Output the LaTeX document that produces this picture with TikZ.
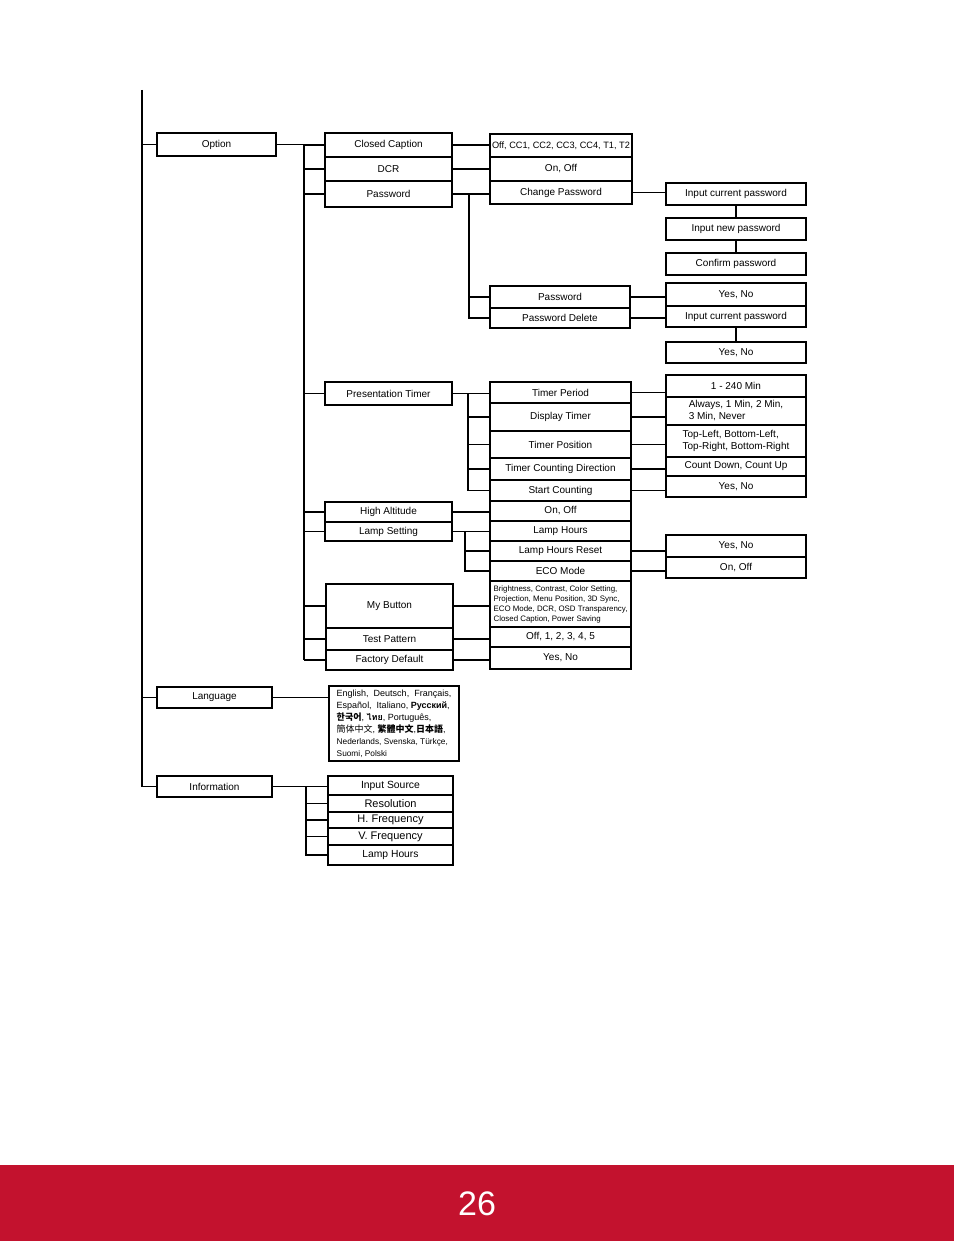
\documentclass[tikz,border=0pt]{standalone}
\usepackage{fontspec}
\setmainfont{Liberation Sans}
\newfontfamily\cjk{Noto Sans CJK SC}
\newfontfamily\krfont{Noto Sans CJK KR}
\newfontfamily\thaifont[Script=Thai]{Loma}
\definecolor{pagered}{RGB}{195,18,46}
\tikzset{
  bx/.style={draw, line width=1.5pt, inner sep=0pt, font=\fontsize{10}{12}\selectfont},
  ln/.style={line width=1.1pt},
  mainln/.style={line width=1.6pt},
}
\newcommand\mybox[7][]{%
  \pgfmathsetmacro\mycx{(#3+#5)/2}%
  \pgfmathsetmacro\mycy{(#4+#6)/2}%
  \pgfmathsetmacro\myww{#5-#3}%
  \pgfmathsetmacro\myhh{#6-#4}%
  \node[bx,minimum width=\myww pt,minimum height=\myhh pt,#1] (#2) at (\mycx,\mycy) {#7};}
\begin{document}
\begin{tikzpicture}[x=1pt,y=-1pt]
\useasboundingbox (0,0) rectangle (954,1241);
\fill[white] (0,0) rectangle (954,1241);
% footer band
\fill[pagered] (0,1165) rectangle (954,1241);
\node[text=white, font=\fontsize{34}{36}\selectfont] (pnum) at (477,1204) {26};

% ---------- Option branch ----------
\mybox{opt}{157}{133}{276}{156}{Option}
\mybox{cc}{325}{133}{452}{157}{Closed Caption}
\mybox{dcr}{325}{157}{452}{181}{DCR}
\mybox{pw}{325}{181}{452}{207}{Password}
\mybox[font=\fontsize{9.2}{11}\selectfont]{ccopt}{490}{134}{632}{157}{Off, CC1, CC2, CC3, CC4, T1, T2}
\mybox{dcropt}{490}{157}{632}{181}{On, Off}
\mybox{chpw}{490}{181}{632}{204}{Change Password}
\mybox{icp}{666}{183}{806}{205}{Input current password}
\mybox{inp}{666}{218}{806}{240}{Input new password}
\mybox{cfp}{666}{253}{806}{275}{Confirm password}
\mybox{pwb}{490}{286}{630}{308}{Password}
\mybox{pwd}{490}{308}{630}{328}{Password Delete}
\mybox{yna}{666}{283}{806}{306}{Yes, No}
\mybox{icpb}{666}{306}{806}{327}{Input current password}
\mybox{ynb}{666}{342}{806}{363}{Yes, No}

\mybox{pt}{325}{382}{452}{405}{Presentation Timer}
\mybox{tper}{490}{382}{631}{403}{Timer Period}
\mybox{dt}{490}{403}{631}{431}{Display Timer}
\mybox{tpos}{490}{431}{631}{458}{Timer Position}
\mybox{tcd}{490}{458}{631}{480}{Timer Counting Direction}
\mybox{sc}{490}{480}{631}{501}{Start Counting}
\mybox{ra}{666}{375}{806}{397}{1 - 240 Min}
\mybox[align=left]{rb}{666}{397}{806}{425}{Always, 1 Min, 2 Min,\\ 3 Min, Never}
\mybox[align=left]{rc}{666}{425}{806}{457}{Top-Left, Bottom-Left,\\Top-Right, Bottom-Right}
\mybox{rd}{666}{457}{806}{476}{Count Down, Count Up}
\mybox{re}{666}{476}{806}{497}{Yes, No}

\mybox{ha}{325}{502}{452}{522}{High Altitude}
\mybox{ls}{325}{522}{452}{541}{Lamp Setting}
\mybox{haopt}{490}{501}{631}{521}{On, Off}
\mybox{lh}{490}{521}{631}{541}{Lamp Hours}
\mybox{lhr}{490}{541}{631}{561}{Lamp Hours Reset}
\mybox{eco}{490}{561}{631}{581}{ECO Mode}
\mybox{rya}{666}{535}{806}{557}{Yes, No}
\mybox{ryb}{666}{557}{806}{578}{On, Off}

\mybox{mb}{326}{584}{453}{628}{My Button}
\mybox{tpat}{326}{628}{453}{650}{Test Pattern}
\mybox{fd}{326}{650}{453}{670}{Factory Default}
\mybox[align=left,font=\fontsize{7.9}{10}\selectfont]{mbopt}{490}{581}{631}{627}{Brightness, Contrast, Color Setting,\\Projection, Menu Position, 3D Sync,\\ECO Mode, DCR, OSD Transparency,\\Closed Caption, Power Saving}
\mybox{tpopt}{490}{627}{631}{647}{Off, 1, 2, 3, 4, 5}
\mybox{fdopt}{490}{647}{631}{669}{Yes, No}

% ---------- Language ----------
\mybox{lang}{157}{687}{272}{708}{Language}
\mybox[align=left,font=\fontsize{9}{12}\selectfont]{langopt}{329}{686}{459}{761}{English,\ \ Deutsch,\ \ Français,\\Español,\ \ Italiano,\ \textbf{Русский},\\{\krfont\bfseries 한국어}, {\thaifont\bfseries ไทย}, Português,\\{\cjk 簡体中文}, {\cjk\bfseries 繁體中文},{\cjk\bfseries 日本語},\\{\fontsize{8.3}{12}\selectfont Nederlands, Svenska, Türkçe,}\\{\fontsize{8.3}{12}\selectfont Suomi, Polski}}

% ---------- Information ----------
\mybox{info}{157}{776}{272}{797}{Information}
\mybox[font=\fontsize{10.4}{12}\selectfont]{isrc}{328}{776}{453}{795}{Input Source}
\mybox[font=\fontsize{11}{12}\selectfont]{res}{328}{795}{453}{812}{Resolution}
\mybox[font=\fontsize{11}{12}\selectfont]{hf}{328}{812}{453}{828}{H. Frequency}
\mybox[font=\fontsize{11}{12}\selectfont]{vf}{328}{828}{453}{845}{V. Frequency}
\mybox[font=\fontsize{10.3}{12}\selectfont]{ilh}{328}{845}{453}{865}{Lamp Hours}

% ---------- connectors ----------
\coordinate (mtop) at (142,90);
\draw[mainln] (mtop) |- (info.west);
\draw[ln] (mtop |- opt.west) -- (opt.west);
\draw[ln] (mtop |- lang.west) -- (lang.west);

% option bus
\coordinate (bA) at (304,0);
\draw[ln] (opt.east) -- (bA |- opt.east);
\draw[ln] (bA |- opt.east) -- (bA |- fd.west);
\foreach \n in {cc,dcr,pw,pt,ha,ls,mb,tpat,fd} \draw[ln] (bA |- \n.west) -- (\n.west);

% closed caption, dcr, password
\draw[mainln] (cc.east) -- (cc.east -| ccopt.west);
\draw[ln] (dcr.east) -- (dcr.east -| dcropt.west);
\draw[mainln] (pw.east) -- (pw.east -| chpw.west);
\draw[ln] (chpw.east) -- (chpw.east -| icp.west);
\draw[ln] (icp.south) -- (inp.north);
\draw[ln] (inp.south) -- (cfp.north);
\coordinate (bP) at (469,0);
\draw[ln] (bP |- pw.east) |- (pwd.west);
\draw[ln] (bP |- pwb.west) -- (pwb.west);
\draw[mainln] (pwb.east) -- (pwb.east -| yna.west);
\draw[ln] (pwd.east) -- (pwd.east -| icpb.west);
\draw[ln] (icpb.south) -- (ynb.north);

% presentation timer
\coordinate (bT) at (468,0);
\draw[ln] (pt.east) -- (pt.east -| tper.west);
\draw[ln] (bT |- pt.east) |- (sc.west);
\foreach \n in {dt,tpos,tcd} \draw[ln] (bT |- \n.west) -- (\n.west);
\draw[ln] (tper.east) -- (tper.east -| ra.west);
\foreach \a/\b in {dt/rb,tpos/rc,tcd/rd,sc/re} \draw[ln] (\a.east) -- (\a.east -| \b.west);

% high altitude, lamp setting
\draw[ln] (ha.east) -- (ha.east -| haopt.west);
\coordinate (bL) at (465,0);
\draw[ln] (ls.east) -- (ls.east -| lh.west);
\draw[ln] (bL |- ls.east) |- (eco.west);
\draw[ln] (bL |- lhr.west) -- (lhr.west);
\draw[ln] (lhr.east) -- (lhr.east -| rya.west);
\draw[mainln] (eco.east) -- (eco.east -| ryb.west);

% my button, test pattern, factory default
\draw[mainln] (mb.east) -- (mb.east -| mbopt.west);
\draw[ln] (tpat.east) -- (tpat.east -| tpopt.west);
\draw[mainln] (fd.east) -- (fd.east -| fdopt.west);

% language
\draw[ln] (lang.east) -- (lang.east -| langopt.west);

% information bus
\coordinate (bI) at (306,0);
\draw[ln] (info.east) -- (info.east -| isrc.west);
\draw[mainln] (bI |- info.east) |- (ilh.west);
\foreach \n in {res,hf,vf} \draw[ln] (bI |- \n.west) -- (\n.west);
\end{tikzpicture}
\end{document}
